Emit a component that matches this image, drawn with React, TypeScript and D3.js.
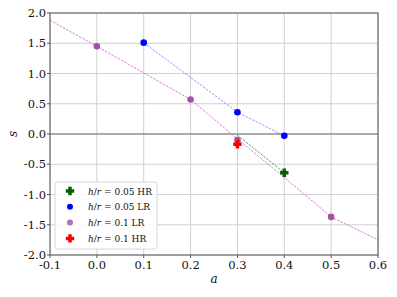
import React from "react";
import * as d3 from "d3";

const xTicks = [-0.1, 0.0, 0.1, 0.2, 0.3, 0.4, 0.5, 0.6];
const yTicks = [-2.0, -1.5, -1.0, -0.5, 0.0, 0.5, 1.0, 1.5, 2.0];

const hr05LineA = [0.3, 0.4];
const hr05LineS = [-0.02, -0.64];
const hr05A = [0.4];
const hr05S = [-0.64];
const lr05A = [0.1, 0.3, 0.4];
const lr05S = [1.51, 0.36, -0.03];
const lr1A = [0.0, 0.2, 0.3, 0.5];
const lr1S = [1.45, 0.57, -0.1, -1.37];
const lr1LineA = [-0.1, 0.0, 0.1, 0.2, 0.3, 0.4, 0.5, 0.6];
const lr1LineS = [1.88, 1.45, 1.01, 0.57, -0.08, -0.72, -1.37, -1.75];
const hr1A = [0.3];
const hr1S = [-0.17];

const legendLabels = [
  { v: "0.05", t: "HR" },
  { v: "0.05", t: "LR" },
  { v: "0.1", t: "LR" },
  { v: "0.1", t: "HR" },
];

const W = 397, H = 297;
const L = 50, R = 378, T = 13, B = 255;

function Plus({ x, y, color, s = 4.2 }: { x: number; y: number; color: string; s?: number }) {
  const w = s * 0.42;
  const d = `M${x - w},${y - s}H${x + w}V${y - w}H${x + s}V${y + w}H${x + w}V${y + s}H${x - w}V${y + w}H${x - s}V${y - w}H${x - w}Z`;
  return <path d={d} fill={color} />;
}

export default function App() {
  const x = d3.scaleLinear().domain([-0.1, 0.6]).range([L, R]);
  const y = d3.scaleLinear().domain([-2, 2]).range([B, T]);
  const line = d3.line<[number, number]>().x(d => x(d[0])).y(d => y(d[1]));
  const zip = (a: number[], b: number[]) => a.map((v, i) => [v, b[i]] as [number, number]);
  const font = "DejaVu Serif";
  const green = "#006400";
  const blue = "#0000ff";
  const purple = "#9b3fa0";
  const red = "#ff0000";
  const legendColors = [green, blue, purple, red];

  return (
    <svg width={W} height={H} style={{ position: "absolute", left: 0, top: 0, background: "#fff", fontFamily: font }}>
      <defs>
        <clipPath id="clip"><rect x={L} y={T} width={R - L} height={B - T} /></clipPath>
      </defs>
      {xTicks.map(t => (
        <line key={"gx" + t} x1={x(t)} x2={x(t)} y1={T} y2={B} stroke="#d0d0d0" strokeWidth={1} />
      ))}
      {yTicks.map(t => (
        <line key={"gy" + t} x1={L} x2={R} y1={y(t)} y2={y(t)} stroke="#d0d0d0" strokeWidth={1} />
      ))}
      <line x1={L} x2={R} y1={y(0)} y2={y(0)} stroke="#6e6e6e" strokeWidth={1} />
      <g clipPath="url(#clip)">
        <path d={line(zip(lr1LineA, lr1LineS)) || ""} fill="none" stroke="#cc66cc" strokeWidth={0.9} strokeDasharray="2.5,1.2" opacity={0.9} />
        <path d={line(zip(lr05A, lr05S)) || ""} fill="none" stroke="#6f6fff" strokeWidth={0.9} strokeDasharray="2.5,1.2" opacity={0.8} />
        <path d={line(zip(hr05LineA, hr05LineS)) || ""} fill="none" stroke="#3a8a3a" strokeWidth={0.9} strokeDasharray="2.5,1.2" opacity={0.9} />
      </g>
      {zip(hr05A, hr05S).map((d, i) => <Plus key={"g" + i} x={x(d[0])} y={y(d[1])} color={green} />)}
      {zip(lr05A, lr05S).map((d, i) => <circle key={"b" + i} cx={x(d[0])} cy={y(d[1])} r={3.3} fill={blue} />)}
      {zip(lr1A, lr1S).map((d, i) => <circle key={"p" + i} cx={x(d[0])} cy={y(d[1])} r={3.3} fill={purple} opacity={0.9} />)}
      {zip(hr1A, hr1S).map((d, i) => <Plus key={"r" + i} x={x(d[0])} y={y(d[1])} color={red} />)}
      <rect x={L} y={T} width={R - L} height={B - T} fill="none" stroke="#555" strokeWidth={1} />
      {xTicks.map(t => (
        <g key={"tx" + t}>
          <line x1={x(t)} x2={x(t)} y1={B} y2={B + 3} stroke="#555" />
          <text x={x(t)} y={B + 14} fontSize={11.5} textAnchor="middle" fill="#111">{t.toFixed(1)}</text>
        </g>
      ))}
      {yTicks.map(t => (
        <g key={"ty" + t}>
          <line x1={L - 3} x2={L} y1={y(t)} y2={y(t)} stroke="#555" />
          <text x={L - 4} y={y(t) + 4} fontSize={11.5} textAnchor="end" fill="#111">{t.toFixed(1)}</text>
        </g>
      ))}
      <text x={(L + R) / 2} y={283} fontSize={12} fontStyle="italic" textAnchor="middle" fill="#111">a</text>
      <text x={17} y={(T + B) / 2} fontSize={12} fontStyle="italic" textAnchor="middle" fill="#111" transform={`rotate(-90 17 ${(T + B) / 2})`}>s</text>
      <rect x={55} y={182} width={102} height={67} rx={2} fill="#fff" fillOpacity={0.85} stroke="#d8d8d8" />
      {legendLabels.map((lg, i) => {
        const cy = 191 + i * 15.8;
        const c = legendColors[i];
        return (
          <g key={"lg" + i}>
            {i === 0 || i === 3 ? <Plus x={70} y={cy} color={c} /> : <circle cx={70} cy={cy} r={3} fill={c} opacity={i === 2 ? 0.75 : 1} />}
            <text x={88} y={cy + 3.5} fontSize={9} fill="#111">
              <tspan fontStyle="italic">h</tspan>
              <tspan>/</tspan>
              <tspan fontStyle="italic">r</tspan>
              <tspan>{" = " + lg.v + " " + lg.t}</tspan>
            </text>
          </g>
        );
      })}
    </svg>
  );
}
